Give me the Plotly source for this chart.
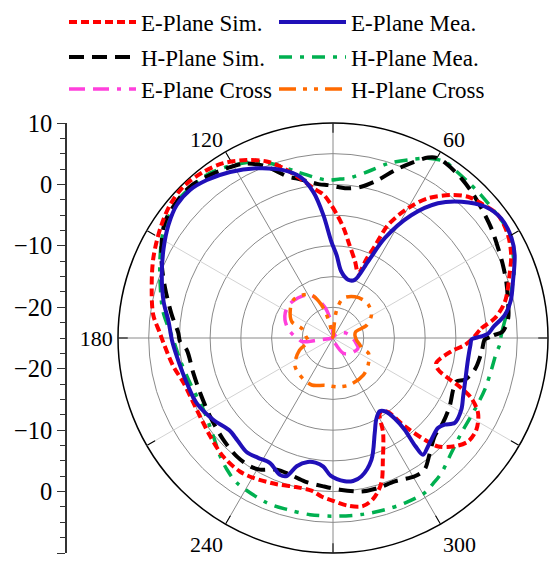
import plotly.graph_objects as go

# ---------------- data (theta in degrees, r in dB) ----------------
E_SIM_THETA = [0, 3.7, 6.9, 11.9, 19.6, 25, 30.5, 36.7, 42.2, 46.3, 50.4, 55.8, 60, 64, 65.5, 67, 68.6,
               74, 80, 84.5, 88, 91, 93.8, 97.5, 101.7, 106.3, 110.6, 115.9, 122.1, 128, 134.7, 140.8,
               147.6, 156.1, 164.7, 172.7, 178.3, 181.7, 190, 196.7, 207.7, 218.6, 227.2, 235.1, 240.4,
               249, 256, 262, 266, 270, 275, 280, 284, 288.4, 292.3, 297.8, 302, 306, 309.1, 312, 314.1,
               318.3, 322.6, 327.4, 332.6, 336.5, 338.7, 340.8, 343.2, 346.4, 353.6, 357, 360]
E_SIM_R = [-2.2, -0.8, 1.5, 3.6, 5.5, 7.0, 8.05, 8.5, 7.6, 6.8, 5.2, 2.5, -0.6, -4.5, -8.5, -11, -13.7,
           -12, -9.6, -7, -5, -3.2, -1.6, -0.4, 1.55, 3.8, 5.7, 7.2, 8.6, 9.3, 9.65, 9.25,
           8.3, 7.0, 5.6, 4.5, 3.2, 2.6, 1.4, 0.4, 0.07, 0.6, 1.3, 1.5, 1.2,
           0.5, 0.0, 0.1, 0.9, 1.5, 2.4, 2.8, 2.0, -0.1, -3.6, -7.5, -10.6, -10.2, -6.5, -2.7, -0.4,
           1.5, 2.7, 2.7, 1.6, -0.45, -2.6, -5.2, -7.1, -7.7, -5.6, -3.5, -2.2]

E_MEA_THETA = [0.5, 1.5, 4, 7.6, 12, 17.4, 24.5, 29.2, 35.4, 40.9, 46.7, 52.1, 57.5, 62.6, 65.4, 69.5,
               75.5, 82.9, 87.5, 91, 94.5, 97.7, 101.6, 106.5, 114.2, 121.8, 128.6, 134, 139.6, 145.5,
               152.1, 159.8, 167.9, 174.3, 181, 186.7, 197.1, 205.5, 214.3, 221.7, 227, 233, 238, 243.3,
               248.8, 251.5, 254.2, 258.5, 262, 265.7, 269, 274.7, 278, 281.6, 287.5, 293.7, 298, 302.5,
               305.5, 307.5, 308, 307.3, 307.6, 311.3, 315, 319.4, 322.2, 325.1, 330.8, 336, 341.1,
               350.9, 357, 359.5, 0.5]
E_MEA_R = [-1.0, 0.2, 1.2, 3.2, 4.6, 5.7, 7.5, 8.3, 8.6, 7.7, 5.5, 2.8, -1.3, -6.7, -11.3, -14.9,
           -15.2, -14.1, -11.5, -9.3, -4.9, -1.0, 1.8, 3.5, 5.3, 6.8, 7.9, 8.5, 8.4, 7.5,
           6.2, 4.7, 3.2, 1.9, 1.2, 0.6, -0.1, -0.4, -1.4, -2.4, -2.2, -1.7, -2.0, -2.2,
           -1.1, -1.3, -3.3, -4.4, -4.5, -4.0, -2.6, -1.6, -1.5, -2.0, -4.2, -8.1, -10.0, -10.85,
           -10.3, -8.5, -6.05, -2.9, -1.0, -1.55, -2.1, -2.5, -2.0, -0.84, -1.07, -1.8, -2.3,
           -2.75, -2.6, -2.4, -1.0]

H_SIM_THETA = [0, 1.0, 2.1, 6.4, 11.7, 18, 23.2, 28.5, 34.7, 41.2, 46.6, 51.2, 56.4, 59.7, 62.2, 66.1,
               69.8, 74.1, 79.4, 84.3, 88, 91.9, 95, 98.4, 102.7, 105.7, 111.8, 117.2, 122.1, 128, 133.4,
               138.9, 145.3, 150.6, 156.9, 163.5, 171.9, 178.1, 181.4, 184.6, 194.1, 202.5, 212.5, 222.8,
               230.9, 237.1, 241, 246.9, 252.5, 259, 266.3, 272.6, 280.5, 286.7, 293.3, 300.6, 304.8,
               310, 316, 322.3, 329.7, 336.7, 340.6, 342.4, 347.4, 354.2, 359.4, 360]
H_SIM_R = [0.2, 1.2, 2.6, 3.7, 4.1, 4.66, 5.1, 5.6, 6.35, 7.1, 7.8, 8.35, 8.8, 8.9, 8.2, 6.1,
           4.1, 1.75, 0.05, -0.52, -0.4, -0.1, 0.1, 0.7, 1.6, 2.3, 5.2, 6.9, 7.6, 8.35, 8.9,
           8.76, 8.26, 7.0, 5.3, 3.5, 1.5, 0.2, -0.1, -1.1, -1.56, -1.6, -1.27, -0.65,
           -0.16, -0.13, -0.5, -1.7, -1.7, -1.2, -0.8, -0.27, 0.4, 0.5, 0.4, 1.15, 1.1,
           -0.5, -2.0, -2.4, -3.0, -3.7, -3.7, -2.5, -1.36, -0.73, -0.3, 0.2]

H_MEA_THETA = [0, 3.3, 9.6, 14.6, 20.1, 24.8, 29.4, 33.35, 38, 44, 49.2, 54.1, 57.6, 62.1, 67.2, 72.4,
               78.1, 84.6, 87.5, 91.8, 95.8, 102.3, 108, 113.4, 120, 126.75, 132.4, 138.9, 147.9, 155.3,
               162, 171.2, 180.6, 188.1, 197.5, 208.9, 219.4, 226.3, 231.1, 236.4, 248.1, 255.1, 262.6,
               270, 279.1, 286.8, 293.5, 300.6, 304.6, 308.7, 315.8, 323.5, 333.2, 341.2, 348.7, 354.8,
               357.6, 360]
H_MEA_R = [2.3, 2.7, 3.9, 5.0, 6.4, 7.3, 8.0, 8.45, 8.4, 8.5, 8.6, 8.8, 9.0, 8.1, 6.45, 4.8,
           2.7, 1.1, 0.9, 0.7, 1.2, 2.7, 4.6, 6.3, 7.5, 8.5, 8.7, 8.76, 7.6, 6.0,
           4.6, 3.0, 1.0, 0.15, -0.6, -0.9, 0.2, 1.6, 2.5, 3.3, 3.9, 3.9, 4.0,
           4.0, 4.1, 4.2, 4.3, 4.3, 3.75, 3.2, 1.86, 1.0, 0.85, 1.1, 1.3, 1.7,
           2.15, 2.3]

E_CROSS_THETA = [291, 304, 318, 330, 338, 350, 359, 10, 22, 35, 52, 70, 88, 95, 98.7, 104, 111, 118,
                 127, 135.5, 143.6, 152, 159.4, 168, 175.7, 182, 186.7, 188, 190, 200]
E_CROSS_R = [-24.1, -22, -21.2, -20.8, -20.6, -21.3, -21.8, -22.3, -22.8, -23.4, -24.1, -24.8, -24.6,
             -23.2, -21.8, -20, -18.4, -17.1, -16.5, -16.2, -16, -16.2, -16.65, -17.5, -18.5, -19.4,
             -19.9, -22.3, -24.3, -24.9]

H_CROSS_THETA = [0, 8, 15, 21, 31, 43, 52, 62, 75.4, 82.5, 85, 95, 103, 106, 110, 116.4, 126, 136.3,
                 147, 158.5, 163, 175, 188.5, 200, 215, 228, 245.6, 260.3, 276.2, 290, 309.3, 322.6,
                 336.6, 340.3, 346, 352, 360]
H_CROSS_R = [-21.3, -21.4, -21.2, -19.1, -17.7, -17.1, -17.1, -17.4, -18.3, -20.4, -23, -24.9, -22.8,
             -20.8, -19, -17.2, -16.4, -16.05, -16.7, -17.8, -19.7, -20.5, -20.9, -19.2, -17.4, -16.9,
             -16.6, -17.2, -17.0, -16.9, -17.2, -17.8, -18.7, -20.0, -20.5, -21.0, -21.3]

ANGLE_TICKS = [0, 60, 90, 120, 180, 240, 270, 300]
ANGLE_LABELS = ["0", "60", "", "120", "180", "240", "", "300"]
ANGLE_MINOR = [30, 150, 210, 330]
R_RANGE = [-25, 10]
R_GRID = [-20, -15, -10, -5, 0, 5]
# left scale: shows the dB scale for the upper and lower radius
LEFT_TICKVALS = [35, 25, 15, 5, -5, -15, -25, -35]
LEFT_TICKTEXT = ["10", "0", "\u221210", "\u221220", "\u221220", "\u221210", "0", "10"]

FONT = "Liberation Serif"
# the page body adds an 8px margin, so the figure is laid out 8px up/left
OFF = 8
W, H = 558 - OFF, 563 - OFF
CX, CY, RAD = 333 - OFF, 338 - OFF, 215

xdom = [(CX - RAD) / W, (CX + RAD) / W]
ydom = [(H - (CY + RAD)) / H, (H - (CY - RAD)) / H]

series = [
    # name, theta, r, color, dash, width, legend, rank
    ("E-Plane Cross", E_CROSS_THETA, E_CROSS_R, "#FF40DC", "16px,8px,16px,8px,4px,8px", 3.5, "legend3", 5),
    ("H-Plane Cross", H_CROSS_THETA, H_CROSS_R, "#FF6A00", "17px,7px,4px,7px,4px,7px", 3.5, "legend3", 6),
    ("H-Plane Mea.", H_MEA_THETA, H_MEA_R, "#00B050", "13px,8px,4px,8px", 3.5, "legend2", 4),
    ("H-Plane Sim.", H_SIM_THETA, H_SIM_R, "#000000", "15px,8px", 4, "legend2", 3),
    ("E-Plane Sim.", E_SIM_THETA, E_SIM_R, "#FF0000", "8px,4px", 4, "legend", 1),
    ("E-Plane Mea.", E_MEA_THETA, E_MEA_R, "#2010B8", "solid", 4, "legend", 2),
]

fig = go.Figure()
# empty traces so the left cartesian scale and the grid polar are created
fig.add_trace(go.Scatter(x=[None], y=[None], xaxis="x", yaxis="y", showlegend=False, hoverinfo="skip"))
fig.add_trace(go.Scatterpolar(r=[None], theta=[None], subplot="polar", showlegend=False, hoverinfo="skip"))

for name, th, rr, col, dash, wd, leg, rank in series:
    fig.add_trace(go.Scatterpolar(
        theta=th, r=rr, mode="lines", name=name, subplot="polar2",
        line=dict(color=col, dash=dash, width=wd, shape="spline", smoothing=0.9),
        legend=leg, legendrank=rank, hoverinfo="skip",
    ))

axis_font = dict(family=FONT, size=22, color="black")

leg_common = dict(orientation="h", xanchor="left", yanchor="middle",
                  font=dict(family=FONT, size=23, color="black"),
                  bgcolor="rgba(0,0,0,0)", borderwidth=0, itemwidth=67,
                  entrywidth=128, entrywidthmode="pixels", traceorder="normal")

LEG_X = (70 - OFF - 6) / W
fig.update_layout(
    width=W, height=H, margin=dict(l=0, r=0, t=0, b=0, autoexpand=False),
    paper_bgcolor="white", plot_bgcolor="rgba(0,0,0,0)",
    showlegend=True,
    legend=dict(x=LEG_X, y=1 - (22 - OFF) / H, **leg_common),
    legend2=dict(x=LEG_X, y=1 - (57 - OFF) / H, **leg_common),
    legend3=dict(x=LEG_X, y=1 - (89 - OFF) / H, **leg_common),
    xaxis=dict(domain=[(67 - OFF) / W, (70 - OFF) / W], visible=False, range=[0, 1], fixedrange=True),
    yaxis=dict(domain=ydom, range=[-35, 35], anchor="x", side="left",
               tickmode="array", tickvals=LEFT_TICKVALS, ticktext=LEFT_TICKTEXT,
               ticks="outside", ticklen=8, tickwidth=1.3, tickcolor="#333",
               showline=True, linecolor="#333", linewidth=1.5, showgrid=False, zeroline=False,
               tickfont=dict(family=FONT, size=24.5, color="black"), automargin=False,
               minor=dict(dtick=2.5, tick0=0, ticks="outside", ticklen=5, tickwidth=1.1,
                          tickcolor="#333", showgrid=False),
               fixedrange=True),
    polar=dict(
        domain=dict(x=xdom, y=ydom), bgcolor="white",
        angularaxis=dict(rotation=0, direction="counterclockwise", tickmode="array",
                         tickvals=ANGLE_TICKS, ticktext=ANGLE_LABELS, ticks="inside", ticklen=9,
                         tickwidth=1.2, tickcolor="black", showline=True, linecolor="black",
                         linewidth=1.5, showgrid=True, gridcolor="#8a8a8a", gridwidth=1.1,
                         tickfont=axis_font),
        radialaxis=dict(range=R_RANGE, tickmode="array", tickvals=R_GRID, showticklabels=False,
                        ticks="", showline=False, showgrid=True, gridcolor="#8a8a8a", gridwidth=1.1),
    ),
    polar2=dict(
        domain=dict(x=xdom, y=ydom), bgcolor="rgba(0,0,0,0)",
        angularaxis=dict(rotation=0, direction="counterclockwise", tickmode="array",
                         tickvals=ANGLE_MINOR, ticktext=[""] * len(ANGLE_MINOR), ticks="inside",
                         ticklen=9, tickwidth=1.2, tickcolor="black", showline=False,
                         showgrid=True, gridcolor="#d2d2d2", gridwidth=1.1),
        radialaxis=dict(range=R_RANGE, showticklabels=False, ticks="", showline=False,
                        showgrid=False),
    ),
)

fig.write_html("out.html")
